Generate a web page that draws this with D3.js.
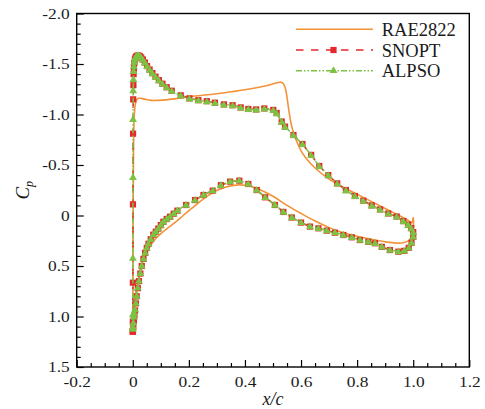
<!DOCTYPE html>
<html>
<head>
<meta charset="utf-8">
<script src="https://cdn.jsdelivr.net/npm/d3@7/dist/d3.min.js"></script>
<style>
  html, body { margin: 0; padding: 0; background: #fff; }
  svg { display: block; }
</style>
</head>
<body>
<svg id="chart" width="485" height="409"></svg>
<script>
// Pressure coefficient along the chord: baseline RAE2822 vs. optimized (SNOPT, ALPSO)

// --- baseline RAE2822 ---
const raeUpperX  = [0, 0.0003, 0.0008, 0.0015, 0.0025, 0.004, 0.006, 0.009, 0.013, 0.02,
                    0.03, 0.045, 0.065, 0.09, 0.12, 0.16, 0.2, 0.25, 0.3, 0.35,
                    0.4, 0.45, 0.49, 0.515, 0.528, 0.537, 0.544, 0.55, 0.556, 0.563,
                    0.572, 0.585, 0.6, 0.62, 0.65, 0.7, 0.75, 0.8, 0.85, 0.9,
                    0.95, 0.98, 0.995, 1.0];
const raeUpperCp = [1.13, 0.8, 0.3, -0.2, -0.6, -0.88, -1.02, -1.1, -1.14, -1.16,
                    -1.16, -1.15, -1.14, -1.14, -1.145, -1.16, -1.175, -1.19, -1.205, -1.225,
                    -1.245, -1.27, -1.295, -1.315, -1.32, -1.305, -1.26, -1.17, -1.05, -0.93,
                    -0.83, -0.73, -0.64, -0.56, -0.47, -0.36, -0.28, -0.21, -0.14, -0.07,
                    0.0, 0.045, 0.07, 0.02];
const raeLowerX  = [0, 0.001, 0.003, 0.006, 0.01, 0.015, 0.022, 0.03, 0.04, 0.052,
                    0.066, 0.08, 0.1, 0.12, 0.15, 0.18, 0.21, 0.25, 0.29, 0.33,
                    0.36, 0.38, 0.4, 0.42, 0.45, 0.5, 0.55, 0.6, 0.65, 0.7,
                    0.75, 0.8, 0.85, 0.9, 0.94, 0.965, 0.985, 0.995, 1.0];
const raeLowerCp = [1.13, 1.08, 1.0, 0.9, 0.8, 0.7, 0.6, 0.5, 0.42, 0.35,
                    0.285, 0.235, 0.18, 0.135, 0.07, 0.0, -0.07, -0.16, -0.235, -0.28,
                    -0.298, -0.303, -0.3, -0.29, -0.26, -0.19, -0.1, -0.02, 0.055, 0.12,
                    0.17, 0.205, 0.235, 0.26, 0.273, 0.27, 0.245, 0.2, 0.14];

// --- optimized sections: shared chordwise stations ---
const upperX = [0, 0.0001, 0.0003, 0.0006, 0.001, 0.0015, 0.0022, 0.003, 0.004, 0.0055,
                0.0075, 0.010, 0.013, 0.017, 0.021, 0.025, 0.030, 0.036, 0.043, 0.051,
                0.060, 0.070, 0.081, 0.093, 0.106, 0.121, 0.139, 0.171, 0.202, 0.234,
                0.264, 0.293, 0.325, 0.356, 0.385, 0.412, 0.440, 0.469, 0.501, 0.513,
                0.531, 0.543, 0.573, 0.605, 0.636, 0.665, 0.697, 0.729, 0.760, 0.792,
                0.822, 0.852, 0.882, 0.911, 0.941, 0.965, 0.982, 0.993, 1.0];
const lowerX = [0, 0.0005, 0.002, 0.004, 0.006, 0.008, 0.011, 0.014, 0.018, 0.022,
                0.027, 0.032, 0.038, 0.044, 0.05, 0.056, 0.064, 0.073, 0.082, 0.091,
                0.1, 0.109, 0.121, 0.133, 0.146, 0.159, 0.19, 0.222, 0.252, 0.285,
                0.314, 0.347, 0.38, 0.412, 0.442, 0.472, 0.507, 0.537, 0.567, 0.6,
                0.632, 0.662, 0.692, 0.721, 0.751, 0.781, 0.81, 0.84, 0.864, 0.888,
                0.917, 0.947, 0.968, 0.984, 0.994, 1.0];

const snoptUpper = [1.15, 1.05, 0.665, -0.11, -0.81, -1.15, -1.29, -1.40, -1.46, -1.51,
                    -1.545, -1.565, -1.578, -1.583, -1.583, -1.578, -1.565, -1.545, -1.515, -1.48,
                    -1.445, -1.41, -1.375, -1.34, -1.305, -1.27, -1.235, -1.19, -1.16, -1.142,
                    -1.132, -1.117, -1.1, -1.092, -1.07, -1.055, -1.05, -1.06, -1.045, -1.015,
                    -0.93, -0.88, -0.797, -0.708, -0.6, -0.49, -0.4, -0.318, -0.252, -0.193,
                    -0.147, -0.1, -0.06, -0.02, 0.01, 0.055, 0.09, 0.125, 0.165];
const snoptLower = [1.15, 1.14, 1.1, 1.04, 0.99, 0.94, 0.87, 0.8, 0.72, 0.65,
                    0.575, 0.5, 0.43, 0.37, 0.32, 0.28, 0.235, 0.19, 0.16, 0.13,
                    0.095, 0.062, 0.035, 0.012, -0.018, -0.048, -0.104, -0.153, -0.203, -0.246,
                    -0.3, -0.335, -0.345, -0.312, -0.252, -0.18, -0.104, -0.035, 0.02, 0.07,
                    0.11, 0.127, 0.15, 0.17, 0.193, 0.216, 0.243, 0.26, 0.275, 0.31,
                    0.342, 0.358, 0.35, 0.32, 0.27, 0.21];

const alpsoUpper = [1.12, 0.98, 0.42, -0.38, -0.955, -1.24, -1.35, -1.43, -1.48, -1.52,
                    -1.55, -1.567, -1.58, -1.585, -1.584, -1.578, -1.565, -1.543, -1.513, -1.478,
                    -1.443, -1.408, -1.373, -1.338, -1.303, -1.268, -1.233, -1.188, -1.158, -1.14,
                    -1.13, -1.115, -1.098, -1.09, -1.068, -1.053, -1.048, -1.058, -1.043, -1.012,
                    -0.928, -0.878, -0.795, -0.706, -0.598, -0.488, -0.398, -0.316, -0.25, -0.191,
                    -0.145, -0.098, -0.058, -0.018, 0.012, 0.057, 0.092, 0.127, 0.167];
const alpsoLower = [1.12, 1.1, 1.06, 1.0, 0.97, 0.93, 0.865, 0.795, 0.715, 0.645,
                    0.57, 0.497, 0.428, 0.368, 0.318, 0.278, 0.233, 0.188, 0.158, 0.128,
                    0.093, 0.06, 0.033, 0.01, -0.02, -0.05, -0.106, -0.155, -0.205, -0.248,
                    -0.302, -0.337, -0.347, -0.314, -0.254, -0.182, -0.106, -0.037, 0.018, 0.068,
                    0.108, 0.125, 0.148, 0.168, 0.191, 0.214, 0.241, 0.258, 0.273, 0.308,
                    0.34, 0.356, 0.348, 0.318, 0.268, 0.208];

// --- axes ---
const xTicks = [-0.2, 0, 0.2, 0.4, 0.6, 0.8, 1.0, 1.2];
const xTickLabels = ["-0.2", "0", "0.2", "0.4", "0.6", "0.8", "1.0", "1.2"];
const yTicks = [-2.0, -1.5, -1.0, -0.5, 0, 0.5, 1.0, 1.5];
const yTickLabels = ["-2.0", "-1.5", "-1.0", "-0.5", "0", "0.5", "1.0", "1.5"];

const seriesNames = ["RAE2822", "SNOPT", "ALPSO"];
const colors = { RAE2822: "#F39237", SNOPT: "#E8262D", ALPSO: "#7CC243" };

const svg = d3.select("#chart");
const plotL = 76.7, plotR = 469.3, plotT = 13.5, plotB = 367;
const x = d3.scaleLinear().domain([-0.2, 1.2]).range([plotL, plotR]);
const y = d3.scaleLinear().domain([-2.0, 1.5]).range([plotT, plotB]);

const serif = "'Liberation Serif', 'Times New Roman', serif";

// closed curve: upper surface LE -> TE, then lower surface TE -> LE
function loop(ux, ucp, lx, lcp) {
  const pts = ux.map((v, i) => [v, ucp[i]]);
  for (let i = lx.length - 1; i >= 0; i--) pts.push([lx[i], lcp[i]]);
  return pts;
}
const raePts = loop(raeUpperX, raeUpperCp, raeLowerX, raeLowerCp);
const snoptPts = loop(upperX, snoptUpper, lowerX, snoptLower);
const alpsoPts = loop(upperX, alpsoUpper, lowerX, alpsoLower);

const plot = svg.append("g");
plot.append("defs").append("clipPath").attr("id", "clip")
  .append("rect").attr("x", plotL).attr("y", plotT)
  .attr("width", plotR - plotL).attr("height", plotB - plotT);
const g = plot.append("g").attr("clip-path", "url(#clip)");

const lineSmooth = d3.line().x(d => x(d[0])).y(d => y(d[1])).curve(d3.curveCatmullRom.alpha(0.5));
const lineLin = d3.line().x(d => x(d[0])).y(d => y(d[1]));

// baseline
g.append("path").attr("d", lineSmooth(raePts))
  .attr("fill", "none").attr("stroke", colors.RAE2822).attr("stroke-width", 1.6);

// SNOPT: dashed line with squares
g.append("path").attr("d", lineLin(snoptPts))
  .attr("fill", "none").attr("stroke", colors.SNOPT).attr("stroke-width", 1.6)
  .attr("stroke-dasharray", "7,7");
const sq = 6.2;
g.selectAll("rect.snopt").data(snoptPts).join("rect").attr("class", "snopt")
  .attr("x", d => x(d[0]) - sq / 2).attr("y", d => y(d[1]) - sq / 2)
  .attr("width", sq).attr("height", sq).attr("fill", colors.SNOPT);

// ALPSO: dash-dot-dot line with triangles
g.append("path").attr("d", lineLin(alpsoPts))
  .attr("fill", "none").attr("stroke", colors.ALPSO).attr("stroke-width", 1.5)
  .attr("stroke-dasharray", "6,2,1.5,2,1.5,2");
const tri = d3.symbol().type(d3.symbolTriangle).size(27);
g.selectAll("path.alpso").data(alpsoPts).join("path").attr("class", "alpso")
  .attr("d", tri).attr("transform", d => `translate(${x(d[0])},${y(d[1]) + 0.6})`)
  .attr("fill", colors.ALPSO);

// axes with inward ticks
const stretch = 1.12;
function styleTicks(sel) {
  sel.select(".domain").remove();
  sel.selectAll("line").attr("stroke", "#000").attr("stroke-width", 1.2);
  sel.selectAll("text").attr("font-family", serif).attr("font-size", "15.5px").attr("fill", "#1a1a1a");
}
const yMinor = d3.range(-20, 16).map(v => v / 10).filter(v => Math.abs(v * 2 - Math.round(v * 2)) > 1e-6);
const xMinor = d3.range(-4, 25).map(v => v / 20).filter(v => Math.abs(v * 5 - Math.round(v * 5)) > 1e-6);

const gyMinor = svg.append("g").attr("transform", `translate(${plotL},0)`)
  .call(d3.axisLeft(y).tickValues(yMinor).tickFormat("").tickSize(-4).tickSizeOuter(0));
styleTicks(gyMinor);
const gy = svg.append("g").attr("transform", `translate(${plotL},0)`)
  .call(d3.axisLeft(y).tickValues(yTicks).tickFormat((d, i) => yTickLabels[i]).tickSize(-7).tickSizeOuter(0).tickPadding(7));
styleTicks(gy);
gy.selectAll("text").attr("x", -7 / stretch).attr("transform", `scale(${stretch},1)`);

const gxMinor = svg.append("g").attr("transform", `translate(0,${plotB})`)
  .call(d3.axisBottom(x).tickValues(xMinor).tickFormat("").tickSize(-4).tickSizeOuter(0));
styleTicks(gxMinor);
const gx = svg.append("g").attr("transform", `translate(0,${plotB})`)
  .call(d3.axisBottom(x).tickValues(xTicks).tickFormat((d, i) => xTickLabels[i]).tickSize(-7).tickSizeOuter(0).tickPadding(9.3));
styleTicks(gx);
gx.selectAll("text").attr("transform", `scale(${stretch},1)`);

// frame
svg.append("rect").attr("x", plotL).attr("y", plotT)
  .attr("width", plotR - plotL).attr("height", plotB - plotT)
  .attr("fill", "none").attr("stroke", "#000").attr("stroke-width", 1.4);

// axis titles
svg.append("text").attr("x", (plotL + plotR) / 2).attr("y", 405)
  .attr("text-anchor", "middle").attr("font-family", serif).attr("font-style", "italic")
  .attr("font-size", "18px").attr("fill", "#1a1a1a").text("x/c");
const cp = svg.append("text").attr("transform", `translate(28.5,${(plotT + plotB) / 2}) rotate(-90)`)
  .attr("text-anchor", "middle").attr("font-family", serif).attr("font-style", "italic")
  .attr("font-size", "19px").attr("fill", "#1a1a1a");
cp.append("tspan").text("C");
cp.append("tspan").attr("font-size", "12px").attr("dy", 4).text("p");

// legend
const legY = [29.3, 50, 70.7];
const lx0 = 296, lx1 = 373;
const leg = svg.append("g");
seriesNames.forEach((name, i) => {
  const ly = legY[i];
  const ln = leg.append("line").attr("x1", lx0).attr("x2", lx1).attr("y1", ly).attr("y2", ly)
    .attr("stroke", colors[name]).attr("stroke-width", 1.6);
  if (name === "SNOPT") {
    ln.attr("stroke-dasharray", "7.5,7.5");
    leg.append("rect").attr("x", (lx0 + lx1) / 2 - sq / 2 - 1).attr("y", ly - sq / 2)
      .attr("width", sq).attr("height", sq).attr("fill", colors[name]);
  }
  if (name === "ALPSO") {
    ln.attr("stroke-dasharray", "6,2,1.5,2,1.5,2");
    leg.append("path").attr("d", tri).attr("transform", `translate(${(lx0 + lx1) / 2 - 1},${ly})`)
      .attr("fill", colors[name]);
  }
  leg.append("text").attr("x", 381.7).attr("y", ly + 6.5)
    .attr("font-family", serif).attr("font-size", "18.5px").attr("fill", "#1a1a1a").text(name);
});
</script>
</body>
</html>
